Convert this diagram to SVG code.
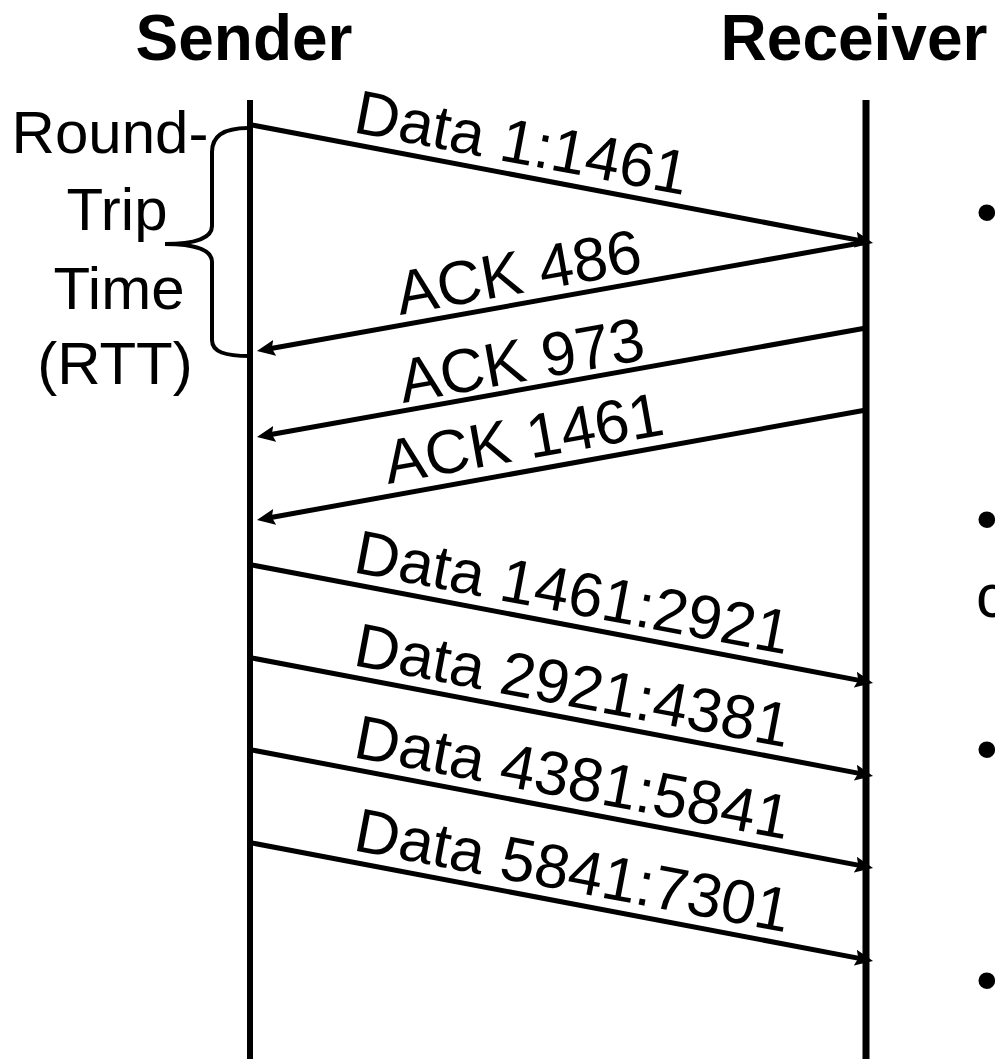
<svg xmlns="http://www.w3.org/2000/svg" width="995" height="1059" viewBox="0 0 995 1059">
<style>
.hdr{font-family:"Liberation Sans",Arial,sans-serif;font-weight:bold;font-size:64px;fill:#000;text-anchor:middle}
.lbl{font-family:"Liberation Sans",Arial,sans-serif;font-size:62px;fill:#000}
.side{font-family:"Liberation Sans",Arial,sans-serif;font-size:60px;fill:#000;text-anchor:middle}
.life{stroke:#000;stroke-width:6;fill:none}
.msg{stroke:#000;stroke-width:5;fill:none;marker-end:url(#ah)}
.brace{stroke:#000;stroke-width:4;fill:none}
</style>
<defs>
<marker id="ah" markerUnits="userSpaceOnUse" viewBox="0 0 18 16" refX="8" refY="8" markerWidth="18" markerHeight="16" orient="auto">
<path d="M0,0 L18,8 L0,16 L3,8 z" fill="#000"/>
</marker>
</defs>
<rect width="995" height="1059" fill="#fff"/>
<g id="sender">
<text class="hdr" x="244" y="60">Sender</text>
<line class="life" x1="250" y1="100" x2="250" y2="1059"/>
</g>
<g id="receiver">
<text class="hdr" x="854" y="60">Receiver</text>
<line class="life" x1="866" y1="100" x2="866" y2="1059" style="stroke-width:7"/>
</g>
<g id="rtt">
<path class="brace" d="M248,128 C225,128 212,135 212,152 L212,226 C212,238 195,244 165,244 C195,244 212,250 212,262 L212,340 C212,352 225,356 250,356"/>
<text class="side" x="110" y="153">Round-</text>
<text class="side" x="117" y="230">Trip</text>
<text class="side" x="119" y="309">Time</text>
<text class="side" x="115" y="384">(RTT)</text>
</g>
<g id="connectors">
<line class="msg" x1="252" y1="125" x2="863.2" y2="241.1"/>
<line class="msg" x1="866" y1="242" x2="266.8" y2="349.2"/>
<line class="msg" x1="866" y1="328" x2="266.8" y2="435.2"/>
<line class="msg" x1="866" y1="410" x2="266.8" y2="518.2"/>
<line class="msg" x1="252" y1="565" x2="863.2" y2="681.1"/>
<line class="msg" x1="252" y1="658" x2="863.2" y2="774.1"/>
<line class="msg" x1="252" y1="750" x2="863.2" y2="866.1"/>
<line class="msg" x1="252" y1="843" x2="863.2" y2="959.1"/>
</g>
<g id="labels">
<text class="lbl" transform="translate(352,132) rotate(10.76)">Data 1:1461</text>
<text class="lbl" transform="translate(400,315) rotate(-10.15)">ACK 486</text>
<text class="lbl" transform="translate(403,403) rotate(-10.15)">ACK 973</text>
<text class="lbl" transform="translate(388,484) rotate(-10.15)">ACK 1461</text>
<text class="lbl" transform="translate(352,572) rotate(10.76)">Data 1461:2921</text>
<text class="lbl" transform="translate(352,665) rotate(10.76)">Data 2921:4381</text>
<text class="lbl" transform="translate(352,757) rotate(10.76)">Data 4381:5841</text>
<text class="lbl" transform="translate(352,850) rotate(10.76)">Data 5841:7301</text>
</g>
<g id="notes">
<text class="lbl" x="976" y="233">•</text>
<text class="lbl" x="976" y="540">•</text>
<text class="lbl" x="976" y="617">c</text>
<text class="lbl" x="976" y="770">•</text>
<text class="lbl" x="976" y="1001">•</text>
</g>
</svg>
